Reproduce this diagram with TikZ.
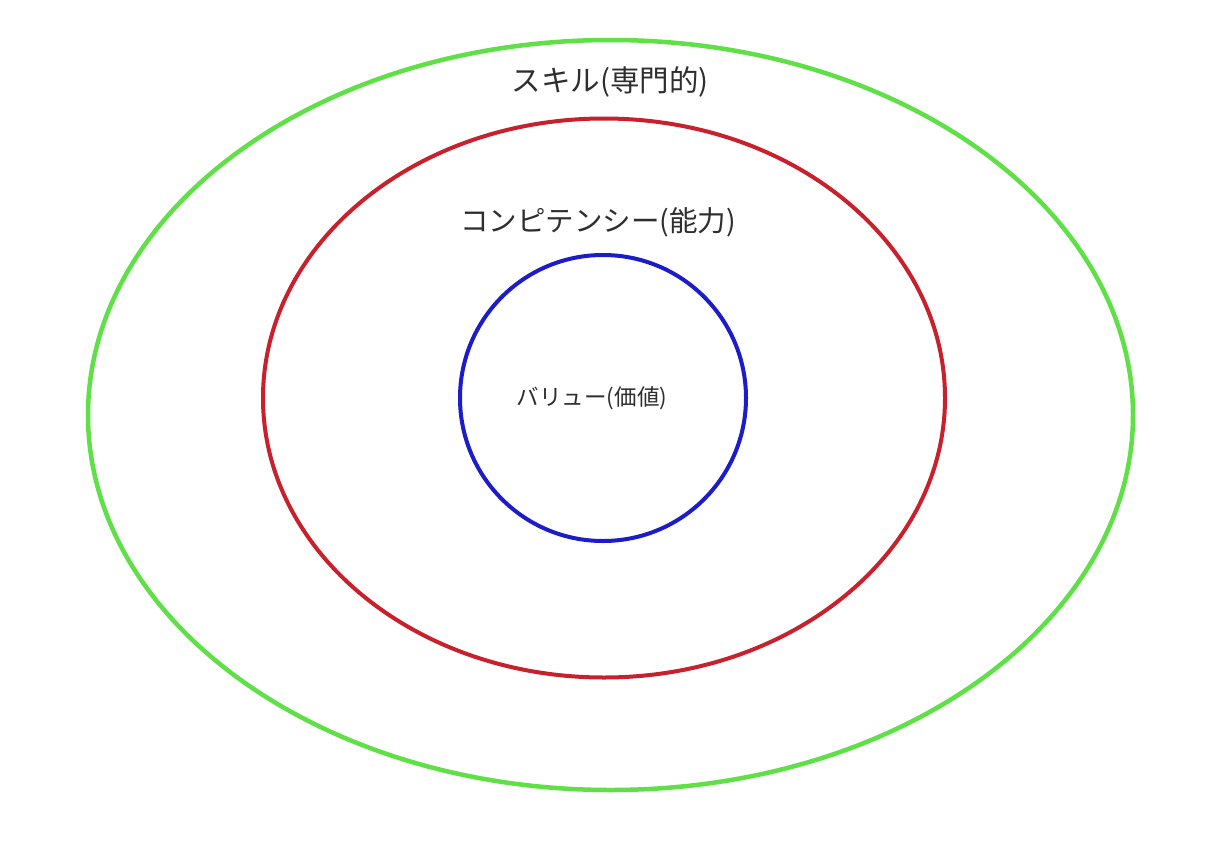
\documentclass[tikz,border=0pt]{standalone}
\usepackage{fontspec}
\newfontfamily\jpfont{Noto Sans CJK JP}
\definecolor{ringgreen}{HTML}{5FE047}
\definecolor{ringred}{HTML}{C8202C}
\definecolor{ringblue}{HTML}{1C1CC8}
\definecolor{labelgray}{HTML}{2E2E2E}
\begin{document}
\begin{tikzpicture}[x=1pt,y=-1pt,
  ring/.style={line width=4.5pt},
  lbl/.style={text=labelgray,inner sep=0pt,font=\jpfont}]
\useasboundingbox[fill=white] (0,0) rectangle (1216,857);
\draw[ring,ringgreen] (610.5,415) ellipse [x radius=522.5, y radius=375];
\draw[ring,ringred,line width=4pt] (604,398) ellipse [x radius=341, y radius=279.5];
\draw[ring,ringblue,line width=4pt] (603,398) circle [radius=143];
\node[lbl,font=\jpfont\fontsize{29.5}{34}\selectfont] (skill) at (610,82) {スキル(専門的)};
\node[lbl,font=\jpfont\fontsize{28.5}{33}\selectfont] (comp) at (598,222) {コンピテンシー(能力)};
\node[lbl,font=\jpfont\fontsize{22.5}{27}\selectfont] (value) at (592,398) {バリュー(価値)};
\end{tikzpicture}
\end{document}
